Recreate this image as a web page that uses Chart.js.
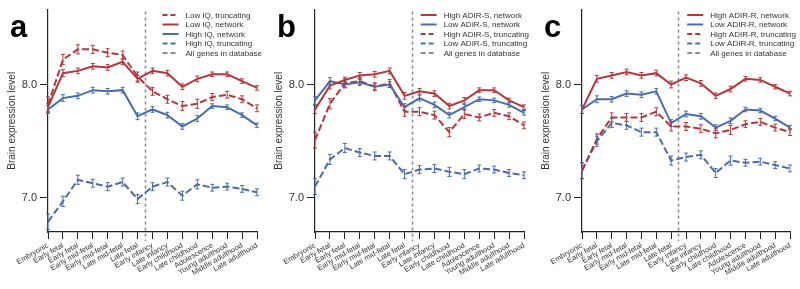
<!DOCTYPE html>
<html><head><meta charset="utf-8">
<script src="https://cdn.jsdelivr.net/npm/chart.js@4/dist/chart.umd.min.js"></script>
<style>html,body{margin:0;padding:0;background:#fff;overflow:hidden}#wrap{display:flex;width:800px;height:289px}canvas{display:block}</style>
</head><body>
<div id="wrap"><canvas id="ca" width="267" height="289"></canvas><canvas id="cb" width="267" height="289"></canvas><canvas id="cc" width="266" height="289"></canvas></div>
<script>
// ---------- data ----------
const stages = ['Embryonic','Early fetal','Early fetal','Early mid-fetal','Early mid-fetal','Late mid-fetal','Late fetal','Early infancy','Late infancy','Early childhood','Late childhood','Adolescence','Young adulthood','Middle adulthood','Late adulthood'];
const yTickValues = [7.0, 8.0];
const birthPosition = 6.47;
const allGenesLabel = 'All genes in database';

// panel a
const lowIQTrunc  = [7.82, 8.22, 8.31, 8.31, 8.28, 8.26, 8.07, 7.94, 7.87, 7.81, 7.83, 7.89, 7.91, 7.87, 7.79];
const lowIQNet    = [7.80, 8.10, 8.12, 8.16, 8.15, 8.20, 8.05, 8.12, 8.10, 7.98, 8.05, 8.09, 8.09, 8.03, 7.97];
const highIQNet   = [7.78, 7.88, 7.90, 7.95, 7.94, 7.95, 7.72, 7.78, 7.73, 7.63, 7.70, 7.81, 7.80, 7.73, 7.64];
const highIQTrunc = [6.79, 6.97, 7.16, 7.13, 7.10, 7.14, 6.99, 7.10, 7.14, 7.02, 7.12, 7.09, 7.10, 7.08, 7.05];
// panel b
const highADIRSNet   = [7.78, 7.99, 8.04, 8.08, 8.09, 8.12, 7.90, 7.94, 7.92, 7.81, 7.86, 7.95, 7.95, 7.86, 7.80];
const lowADIRSNet    = [7.86, 8.03, 8.00, 8.02, 7.98, 8.00, 7.80, 7.88, 7.82, 7.73, 7.80, 7.87, 7.86, 7.82, 7.75];
const highADIRSTrunc = [7.51, 7.83, 8.01, 8.03, 7.98, 8.01, 7.76, 7.76, 7.73, 7.58, 7.74, 7.71, 7.75, 7.72, 7.64];
const lowADIRSTrunc  = [7.10, 7.34, 7.44, 7.40, 7.37, 7.37, 7.21, 7.25, 7.26, 7.23, 7.21, 7.26, 7.25, 7.22, 7.20];
// panel c
const highADIRRNet   = [7.78, 8.05, 8.08, 8.11, 8.08, 8.10, 8.00, 8.06, 8.01, 7.90, 7.96, 8.05, 8.04, 7.98, 7.92];
const lowADIRRNet    = [7.78, 7.87, 7.87, 7.92, 7.91, 7.94, 7.66, 7.74, 7.72, 7.62, 7.68, 7.78, 7.77, 7.70, 7.62];
const highADIRRTrunc = [7.24, 7.52, 7.71, 7.71, 7.71, 7.76, 7.63, 7.63, 7.61, 7.57, 7.60, 7.65, 7.67, 7.62, 7.58];
const lowADIRRTrunc  = [7.24, 7.50, 7.66, 7.64, 7.58, 7.58, 7.33, 7.36, 7.38, 7.22, 7.33, 7.31, 7.32, 7.29, 7.26];

// error half-widths (estimated)
const errNet   = [0.035, 0.03, 0.025, 0.025, 0.025, 0.025, 0.03, 0.025, 0.025, 0.025, 0.025, 0.02, 0.02, 0.02, 0.02];
const errTrunc = [0.07, 0.045, 0.04, 0.035, 0.035, 0.035, 0.04, 0.035, 0.035, 0.04, 0.04, 0.03, 0.03, 0.03, 0.03];

// ---------- styling ----------
const RED = '#b3383d', BLUE = '#4a6cae', GREY = '#8e8e8e', AX = '#222';
const FONT = "'Liberation Sans', Arial, Helvetica, sans-serif";
Chart.defaults.font.family = FONT;

const decor = {
  id: 'decor',
  beforeDatasetsDraw(chart, args, opts) {
    const {ctx, chartArea, scales: {x}} = chart;
    const px = Math.round(x.getPixelForValue(opts.vline)) + 0.5;
    ctx.save();
    ctx.strokeStyle = GREY; ctx.lineWidth = 1.6; ctx.setLineDash([3, 3]);
    ctx.beginPath(); ctx.moveTo(px, chartArea.top + 2); ctx.lineTo(px, chartArea.bottom + 9); ctx.stroke();
    ctx.restore();
  },
  afterDatasetsDraw(chart, args, opts) {
    const {ctx, scales: {x, y}} = chart;
    ctx.save();
    chart.data.datasets.forEach((ds) => {
      ctx.strokeStyle = ds.borderColor; ctx.lineWidth = 1; ctx.setLineDash([]);
      ds.data.forEach((v, j) => {
        const e = ds.err[j];
        const px = x.getPixelForValue(j);
        const y1 = y.getPixelForValue(v - e), y2 = y.getPixelForValue(v + e);
        ctx.beginPath();
        ctx.moveTo(px, y1); ctx.lineTo(px, y2);
        ctx.moveTo(px - 2, y1); ctx.lineTo(px + 2, y1);
        ctx.moveTo(px - 2, y2); ctx.lineTo(px + 2, y2);
        ctx.stroke();
      });
    });
    // legend
    const items = chart.data.datasets.map(d => ({label: d.label, color: d.borderColor, dash: d.borderDash || []}));
    items.push({label: allGenesLabel, color: GREY, dash: [5, 3]});
    ctx.font = '8px ' + FONT;
    const maxW = Math.max(...items.map(it => ctx.measureText(it.label).width));
    const left = opts.legendRight - maxW - 23;
    items.forEach((it, k) => {
      const yy = 15 + k * 9.5;
      ctx.strokeStyle = it.color; ctx.lineWidth = 2; ctx.setLineDash(it.dash.length ? [5, 3] : []);
      ctx.beginPath(); ctx.moveTo(left, yy); ctx.lineTo(left + 16, yy); ctx.stroke();
      ctx.fillStyle = '#333'; ctx.textBaseline = 'middle'; ctx.textAlign = 'left';
      ctx.fillText(it.label, left + 23, yy + 0.5);
    });
    // panel letter
    ctx.fillStyle = '#000'; ctx.font = 'bold 31px ' + FONT; ctx.textBaseline = 'alphabetic';
    ctx.fillText(opts.letter, 10, 37);
    ctx.restore();
  }
};

function ds(label, values, color, dashed, err) {
  return {label, data: values, err, borderColor: color, backgroundColor: color,
          borderWidth: 2, borderDash: dashed ? [7, 3] : [], pointRadius: 0, tension: 0, fill: false};
}

function makePanel(id, letter, datasets) {
  new Chart(document.getElementById(id), {
    type: 'line',
    data: {labels: stages, datasets},
    plugins: [decor],
    options: {
      responsive: false, animation: false, devicePixelRatio: 1,
      layout: {padding: {top: 7, right: 10, left: 0, bottom: 0}},
      plugins: {legend: {display: false}, tooltip: {enabled: false},
                decor: {vline: birthPosition, letter, legendRight: 262}},
      scales: {
        x: {
          type: 'category', offset: false,
          grid: {drawOnChartArea: false, drawTicks: true, tickLength: 7, color: AX, offset: false},
          border: {display: true, color: AX, width: 1.2},
          ticks: {autoSkip: false, minRotation: 30, maxRotation: 30, color: '#333', font: {size: 7.5}, padding: 2},
          afterFit(s) { s.height = 57; }
        },
        y: {
          min: 6.70, max: 8.66,
          afterBuildTicks(s) { s.ticks = yTickValues.map(v => ({value: v})); },
          grid: {drawOnChartArea: false, drawTicks: true, tickLength: 8, color: AX},
          border: {display: true, color: AX, width: 1.2},
          ticks: {color: '#333', font: {size: 11}, padding: 3, callback: v => Number(v).toFixed(1)},
          title: {display: true, text: 'Brain expression level', color: '#333', font: {size: 10}, padding: {top: 6, bottom: 0}},
          afterFit(s) { s.width = 48; }
        }
      }
    }
  });
}

makePanel('ca', 'a', [
  ds('Low IQ, truncating', lowIQTrunc, RED, true, errTrunc),
  ds('Low IQ, network', lowIQNet, RED, false, errNet),
  ds('High IQ, network', highIQNet, BLUE, false, errNet),
  ds('High IQ, truncating', highIQTrunc, BLUE, true, errTrunc)
]);
makePanel('cb', 'b', [
  ds('High ADIR-S, network', highADIRSNet, RED, false, errNet),
  ds('Low ADIR-S, network', lowADIRSNet, BLUE, false, errNet),
  ds('High ADIR-S, truncating', highADIRSTrunc, RED, true, errTrunc),
  ds('Low ADIR-S, truncating', lowADIRSTrunc, BLUE, true, errTrunc)
]);
makePanel('cc', 'c', [
  ds('High ADIR-R, network', highADIRRNet, RED, false, errNet),
  ds('Low ADIR-R, network', lowADIRRNet, BLUE, false, errNet),
  ds('High ADIR-R, truncating', highADIRRTrunc, RED, true, errTrunc),
  ds('Low ADIR-R, truncating', lowADIRRTrunc, BLUE, true, errTrunc)
]);
</script>
</body></html>
